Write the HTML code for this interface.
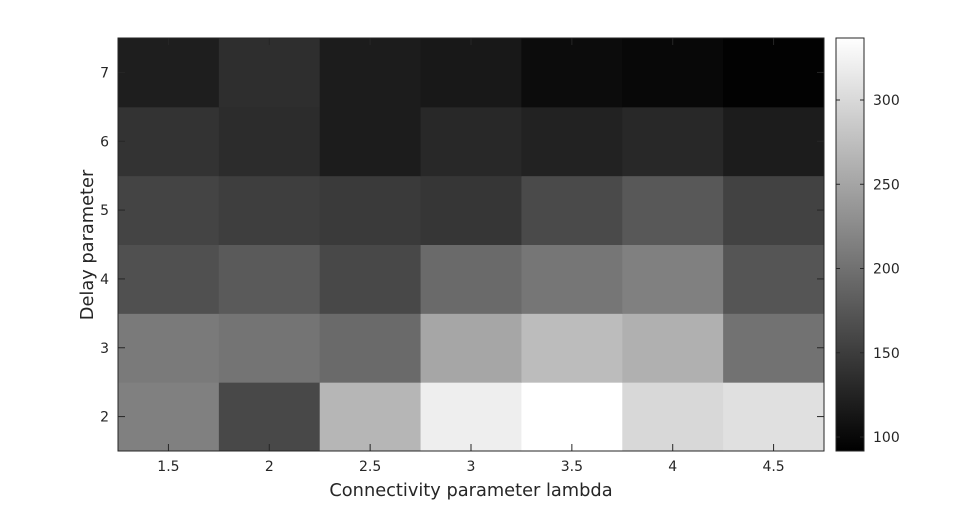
<!DOCTYPE html>
<html><head><meta charset="utf-8"><style>
html,body{margin:0;padding:0;background:#fff;}
svg{display:block;font-family:"DejaVu Sans","Liberation Sans",sans-serif;}
</style></head><body>
<svg id="chart" width="978" height="508" viewBox="0 0 978 508" xmlns="http://www.w3.org/2000/svg">
<rect width="978" height="508" fill="#fff"/>
<g id="cells"></g>
<g id="axes"></g>
<g id="cbar"></g>
<text x="471" y="496" font-size="17.8" text-anchor="middle" fill="#262626">Connectivity parameter lambda</text>
<text transform="translate(93,245) rotate(-90)" font-size="17.8" text-anchor="middle" fill="#262626">Delay parameter</text>
</svg>
<script>
const xCats = [1.5, 2, 2.5, 3, 3.5, 4, 4.5];
const yCats = [2, 3, 4, 5, 6, 7];
const row2 = [214.7, 160.9, 266.6, 320.4, 336.8, 299.3, 307];
const row3 = [209, 203.2, 193.6, 251.2, 272.4, 260.8, 201.3];
const row4 = [168.6, 178.2, 160.9, 193.6, 205.1, 214.7, 173.4];
const row5 = [157, 151.3, 147.4, 143.6, 162.8, 176.3, 155.1];
const row6 = [140.7, 134, 118.6, 130.1, 124.4, 130.1, 118.6];
const row7 = [120.5, 135.9, 118.6, 114.8, 103.2, 99.4, 93.6];
const rows = [row2, row3, row4, row5, row6, row7];
const cMin = 91.7, cMax = 336.8;
const cbTicks = [100, 150, 200, 250, 300];

const NS = "http://www.w3.org/2000/svg";
const L = 118, R = 824, T = 38, B = 451;
const cw = (R - L) / xCats.length, ch = (B - T) / yCats.length;
const xPos = i => L + i * cw;
const yPos = j => B - (j + 1) * ch;
const gray = v => { let g = Math.round(Math.max(0, Math.min(1, (v - cMin) / (cMax - cMin))) * 255); return `rgb(${g},${g},${g})`; };
function mk(tag, attrs, parent) { const e = document.createElementNS(NS, tag); for (const k in attrs) e.setAttribute(k, attrs[k]); parent.appendChild(e); return e; }

const cells = document.getElementById('cells');
rows.forEach((row, j) => row.forEach((v, i) => {
  const r = mk('rect', {x: xPos(i), y: yPos(j), width: cw + 0.5, height: ch + 0.5, fill: gray(v)}, cells);
  
  
}));

const axes = document.getElementById('axes');
const box = mk('rect', {x: L, y: T, width: R - L, height: B - T, fill: 'none', stroke: '#262626', 'stroke-width': 1}, axes);


xCats.forEach((c, i) => {
  const x = xPos(i) + cw / 2;
  mk('line', {x1: x, x2: x, y1: B, y2: B - 7, stroke: '#262626'}, axes);
  mk('line', {x1: x, x2: x, y1: T, y2: T + 7, stroke: '#262626'}, axes);
  const t = mk('text', {x: x, y: B + 20, 'font-size': 14, 'text-anchor': 'middle', fill: '#262626'}, axes);
  t.textContent = c;
  
  
});
yCats.forEach((c, j) => {
  const y = yPos(j) + ch / 2;
  mk('line', {x1: L, x2: L + 7, y1: y, y2: y, stroke: '#262626'}, axes);
  mk('line', {x1: R, x2: R - 7, y1: y, y2: y, stroke: '#262626'}, axes);
  const t = mk('text', {x: L - 9, y: y + 5, 'font-size': 14, 'text-anchor': 'end', fill: '#262626'}, axes);
  t.textContent = c;
  
  
});

const cb = document.getElementById('cbar');
const CL = 836, CR = 864;
const defs = mk('defs', {}, cb);
const lg = mk('linearGradient', {id: 'gg', x1: 0, y1: 1, x2: 0, y2: 0}, defs);
mk('stop', {offset: 0, 'stop-color': '#000'}, lg);
mk('stop', {offset: 1, 'stop-color': '#fff'}, lg);
const cbr = mk('rect', {x: CL, y: T, width: CR - CL, height: B - T, fill: 'url(#gg)', stroke: '#262626'}, cb);


cbTicks.forEach(v => {
  const y = B - (v - cMin) / (cMax - cMin) * (B - T);
  mk('line', {x1: CR, x2: CR - 4, y1: y, y2: y, stroke: '#262626'}, cb);
  mk('line', {x1: CL, x2: CL + 4, y1: y, y2: y, stroke: '#262626'}, cb);
  const t = mk('text', {x: CR + 9, y: y + 5, 'font-size': 14, fill: '#262626'}, cb);
  t.textContent = v;
  
  
});
</script>
</body></html>
